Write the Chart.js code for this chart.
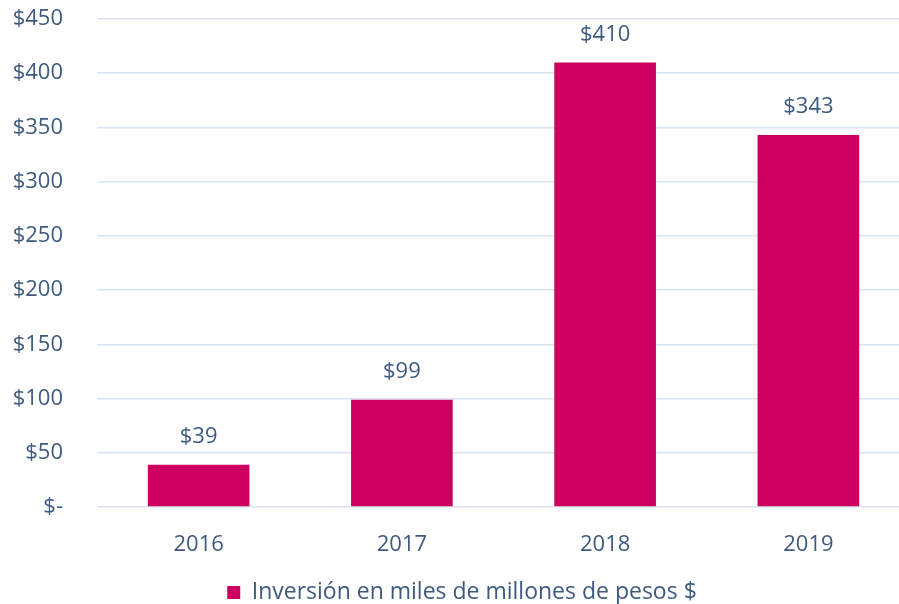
<!DOCTYPE html>
<html>
<head>
<meta charset="utf-8">
<script src="https://cdn.jsdelivr.net/npm/chart.js"></script>
<style>
  html, body { margin: 0; padding: 0; background: #fff; overflow: hidden; }
  #wrap { width: 925px; height: 614px; }
</style>
</head>
<body>
<div id="wrap"><canvas id="grafico"></canvas></div>
<script>
// datos
const anios = ['2016', '2017', '2018', '2019'];
const inversion = [39, 99, 410, 343];
const nombreSerie = 'Inversión en miles de millones de pesos $';
const ejeMax = 450;
const ejePaso = 50;

const colorBarra = '#CC005E';
const colorTexto = '#3E5A80';
const colorRejilla = '#D9E3F1';
const fuente = "'Open Sans', sans-serif";

// etiquetas encima de cada barra
const etiquetasBarras = {
    id: 'etiquetasBarras',
    afterDatasetsDraw(chart) {
        const ctx = chart.ctx;
        const meta = chart.getDatasetMeta(0);
        ctx.save();
        ctx.font = '22px ' + fuente;
        ctx.fillStyle = colorTexto;
        ctx.textAlign = 'center';
        ctx.textBaseline = 'middle';
        meta.data.forEach((barra, i) => {
            ctx.fillText('$' + inversion[i], barra.x, barra.y - 28);
        });
        ctx.restore();
    }
};

new Chart(document.getElementById('grafico').getContext('2d'), {
    type: 'bar',
    data: {
        labels: anios,
        datasets: [{
            label: nombreSerie,
            data: inversion,
            backgroundColor: colorBarra,
            borderWidth: 0,
            categoryPercentage: 0.5,
            barPercentage: 1
        }]
    },
    options: {
        responsive: true,
        maintainAspectRatio: false,
        animation: false,
        layout: { padding: { top: 19, right: 15, bottom: 0, left: 14 } },
        plugins: {
            tooltip: { enabled: false },
            legend: {
                position: 'bottom',
                labels: {
                    color: colorTexto,
                    font: { family: fuente, size: 23 },
                    boxWidth: 13,
                    boxHeight: 13,
                    padding: 3
                }
            }
        },
        scales: {
            x: {
                grid: { display: false, drawTicks: false },
                border: { display: false },
                ticks: { color: colorTexto, font: { family: fuente, size: 22 }, padding: 25 },
                afterFit(scale) { scale.height = 71; }
            },
            y: {
                min: 0,
                max: ejeMax,
                grid: { color: colorRejilla, lineWidth: 1.5, drawTicks: false },
                border: { display: false },
                ticks: {
                    stepSize: ejePaso,
                    color: colorTexto,
                    font: { family: fuente, size: 22 },
                    padding: 34,
                    callback: v => v === 0 ? '$-' : '$' + v
                },
                afterFit(scale) {
                    scale.width = 83;
                    scale.paddingTop = 0;
                    scale.paddingBottom = 0;
                }
            }
        }
    },
    plugins: [etiquetasBarras]
});
</script>
</body>
</html>
